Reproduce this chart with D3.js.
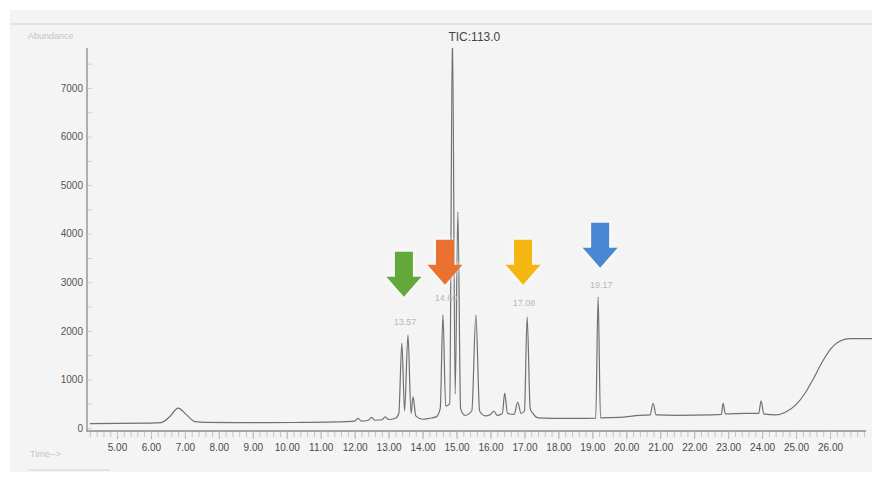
<!DOCTYPE html>
<html>
<head>
<meta charset="utf-8">
<script src="https://cdn.jsdelivr.net/npm/d3@7"></script>
<style>
  body { margin: 0; background: #fff; }
  svg { display: block; font-family: "Liberation Sans Narrow", "Liberation Sans", Arial, sans-serif; }
</style>
</head>
<body>
<svg id="chart" width="872" height="478"></svg>
<script>
// TIC trace (minutes, abundance)
var ticTime = [4.2, 5.0, 6.0, 6.3, 6.55, 6.8, 7.05, 7.3, 7.6, 8.5, 9.5, 10.5, 11.5,
  12.0, 12.1, 12.2, 12.4, 12.5, 12.6, 12.8, 12.9, 13.0, 13.2, 13.3, 13.39, 13.47, 13.57,
  13.66, 13.72, 13.8, 14.0, 14.2, 14.4, 14.52, 14.6, 14.68, 14.8, 14.88, 14.96, 15.04,
  15.12, 15.25, 15.45, 15.57, 15.68, 15.85, 16.0, 16.1, 16.2, 16.35, 16.42, 16.5, 16.7,
  16.8, 16.9, 17.0, 17.08, 17.17, 17.25, 17.4, 17.8, 18.5, 19.1, 19.17, 19.24, 19.8,
  20.4, 20.7, 20.79, 20.88, 21.5, 22.5, 22.8, 22.85, 22.92, 23.5, 23.9, 23.97, 24.05,
  24.4, 24.7, 25.0, 25.27, 25.5, 25.77, 26.0, 26.3, 26.6, 27.3];
var ticAbund = [90, 95, 100, 110, 230, 410, 270, 130, 115, 110, 110, 115, 125,
  140, 200, 140, 160, 220, 160, 170, 230, 175, 200, 300, 1750, 350, 1920,
  300, 640, 250, 180, 200, 230, 400, 2330, 450, 500, 8200, 700, 4450,
  400, 260, 350, 2330, 350, 250, 280, 350, 260, 300, 720, 300, 280,
  535, 300, 350, 2290, 400, 300, 210, 200, 200, 205, 2700, 210, 220,
  260, 270, 510, 270, 260, 270, 280, 510, 290, 300, 300, 560, 290,
  270, 330, 480, 720, 1000, 1360, 1610, 1790, 1840, 1840];

// marked peaks
var markTime = [13.45, 14.66, 16.96, 19.23];
var markTip = [2700, 2950, 2950, 3300];
var markLabel = ["13.57", "14.60", "17.08", "19.17"];
var markLabelAt = [2130, 2620, 2520, 2880];
var markColor = ["#62a83a", "#ea7130", "#f6b611", "#4a87d2"];

var yTicks = [0, 1000, 2000, 3000, 4000, 5000, 6000, 7000];
var xTicks = d3.range(5, 27);
var ticLabel = "TIC:113.0";

var svg = d3.select("#chart");
var width = 872, height = 478;

var x = d3.scaleLinear().domain([5, 26]).range([117, 830]);
var y = d3.scaleLinear().domain([0, 7000]).range([428, 88]);
var yTop = 48;

// background panel
svg.append("rect").attr("x", 10).attr("y", 10).attr("width", width - 10).attr("height", 462)
  .attr("fill", "#f4f4f4");
svg.append("line").attr("x1", 10).attr("x2", width).attr("y1", 24).attr("y2", 24)
  .attr("stroke", "#e2e2e2").attr("stroke-width", 2);
svg.append("line").attr("x1", 28).attr("x2", 110).attr("y1", 470).attr("y2", 470)
  .attr("stroke", "#e4e4e4").attr("stroke-width", 2);

svg.append("text").attr("x", 28).attr("y", 39).attr("font-size", 9).attr("fill", "#c4c4c4")
  .text("Abundance");
svg.append("text").attr("x", 30).attr("y", 457).attr("font-size", 9).attr("fill", "#c4c4c4")
  .text("Time-->");

// y axis
var yAxis = svg.append("g").attr("transform", "translate(86,0)")
  .call(d3.axisLeft(y).tickValues(yTicks).tickSize(0).tickPadding(3).tickFormat(d3.format("d")))
  .attr("font-family", null);
yAxis.select(".domain").remove();
yAxis.selectAll("text").attr("font-size", 10).attr("fill", "#555");
svg.append("line").attr("x1", 87).attr("x2", 87).attr("y1", yTop).attr("y2", 432)
  .attr("stroke", "#8a8a8a").attr("stroke-width", 1.3);
var yMinor = svg.append("g").attr("transform", "translate(88,0)")
  .call(d3.axisRight(y).tickValues(d3.range(0, 7800, 500)).tickSize(4).tickFormat(""));
yMinor.select(".domain").remove();
yMinor.selectAll("line").attr("stroke", "#d0d0d0");

// x axis
var xAxis = svg.append("g").attr("transform", "translate(0,431)")
  .call(d3.axisBottom(x).tickValues(xTicks).tickSize(8).tickPadding(5)
    .tickFormat(d3.format(".2f")))
  .attr("font-family", null);
xAxis.select(".domain").attr("d", "M87,0H866").attr("stroke", "#8a8a8a").attr("stroke-width", 1.5);
xAxis.selectAll("line").attr("stroke", "#b0b0b0");
xAxis.selectAll("text").attr("font-size", 10).attr("fill", "#4a4a4a");
var xMinor = svg.append("g").attr("transform", "translate(0,432)")
  .call(d3.axisBottom(x).tickValues(d3.range(4.2, 27.1, 0.2)).tickSize(5).tickFormat(""));
xMinor.select(".domain").remove();
xMinor.selectAll("line").attr("stroke", "#c4c4c4");

// trace
svg.append("clipPath").attr("id", "plotclip").append("rect")
  .attr("x", 87).attr("y", yTop).attr("width", width - 87).attr("height", 432 - yTop);
var pts = ticTime.map(function(t, i) { return [t, ticAbund[i]]; });
var line = d3.line()
  .x(function(d) { return x(d[0]); })
  .y(function(d) { return y(d[1]); })
  .curve(d3.curveMonotoneX);
svg.append("path").datum(pts).attr("d", line).attr("clip-path", "url(#plotclip)")
  .attr("fill", "none").attr("stroke", "#707070").attr("stroke-width", 1.2);

svg.append("text").attr("x", x(14.88) - 4).attr("y", 41).attr("font-size", 12)
  .attr("fill", "#444").text(ticLabel);

// peak labels and arrows
var glow = svg.append("defs").append("filter").attr("id", "glow")
  .attr("x", "-50%").attr("y", "-50%").attr("width", "200%").attr("height", "200%");
glow.append("feGaussianBlur").attr("stdDeviation", 3);

markTime.forEach(function(t, i) {
  svg.append("text").attr("x", x(t) + 1).attr("y", y(markLabelAt[i]))
    .attr("text-anchor", "middle").attr("font-size", 9).attr("fill", "#b8b8b8")
    .text(markLabel[i]);

  var cx = x(t), tip = y(markTip[i]);
  var shaft = 9, head = 17.5, headH = 20, len = 45;
  var d = "M" + (cx - shaft) + "," + (tip - len) +
    "H" + (cx + shaft) + "V" + (tip - headH) +
    "H" + (cx + head) + "L" + cx + "," + tip +
    "L" + (cx - head) + "," + (tip - headH) +
    "H" + (cx - shaft) + "Z";
  svg.append("path").attr("d", d).attr("fill", "#ffffff").attr("opacity", 0.8)
    .attr("filter", "url(#glow)");
  svg.append("path").attr("d", d).attr("fill", markColor[i]);
});
</script>
</body>
</html>
